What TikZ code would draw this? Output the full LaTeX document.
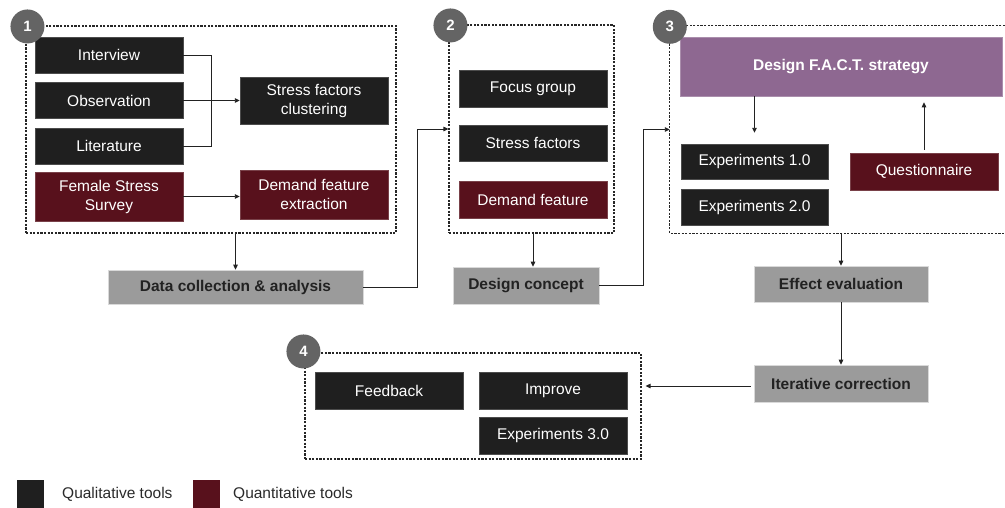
\documentclass[tikz,border=0pt]{standalone}
\usepackage{fontspec}
\setmainfont{Liberation Sans}
\usetikzlibrary{arrows.meta,fit}
\definecolor{qblack}{HTML}{1F1F1F}
\definecolor{qmaroon}{HTML}{58111C}
\definecolor{qpurple}{HTML}{8E6891}
\definecolor{qgray}{HTML}{9B9B9B}
\definecolor{circgray}{HTML}{646464}
\definecolor{darktext}{HTML}{222222}
\definecolor{legtext}{HTML}{2A2A2A}
\begin{document}
\begin{tikzpicture}[x=1pt,y=-1pt,
  box/.style={rectangle, inner sep=0pt, align=center, text=white,
    font=\fontsize{15.5}{19}\selectfont},
  qual/.style={box, fill=qblack, draw=black!70, line width=0.4pt},
  quant/.style={box, fill=qmaroon, draw=qmaroon!80!white, line width=0.4pt},
  stagebox/.style={box, fill=qgray, draw=black!15, line width=0.6pt, text=darktext,
    font=\bfseries\fontsize{15.5}{19}\selectfont},
  factbox/.style={box, fill=qpurple, draw=qpurple!75!white, line width=0.6pt,
    font=\bfseries\fontsize{15.5}{19}\selectfont},
  frame/.style={rectangle, inner sep=0pt, draw=black!85, line width=1.1pt,
    dash pattern=on 2.2pt off 1.4pt},
  framepath/.style={draw=black!85, line width=1.1pt, dash pattern=on 2.2pt off 1.4pt},
  numc/.style={circle, fill=circgray, text=white, minimum size=34pt, inner sep=0pt,
    font=\bfseries\fontsize{15}{15}\selectfont},
  conn/.style={draw=darktext, line width=0.9pt},
  arr/.style={conn, -{Triangle[length=5pt,width=4.5pt]}},
  legsq/.style={rectangle, inner sep=0pt, minimum width=27pt, minimum height=30pt, anchor=north west},
  legtxt/.style={anchor=west, text=legtext, inner sep=0pt, font=\fontsize{15.5}{19}\selectfont}
]
\useasboundingbox (0,0) rectangle (1005,507);

% ---------- frames ----------
\node[frame, fit={(26,26)(396,233)}] (f1) {};
\node[frame, fit={(449,25)(614,233)}] (f2) {};
\node[inner sep=0pt, fit={(670,26)(1012,233)}] (f3) {};
\draw[framepath] (f3.north east) -- (f3.north west) -- (f3.south west) -- (f3.south east);
\node[frame, fit={(305,353)(641,459)}] (f4) {};

% ---------- stage 1 ----------
\node[qual, minimum width=148pt, minimum height=36pt] (interview) at (109,55) {Interview};
\node[qual, minimum width=148pt, minimum height=36pt] (observation) at (109,100.5) {Observation};
\node[qual, minimum width=148pt, minimum height=36pt] (literature) at (109,146) {Literature};
\node[quant, minimum width=148pt, minimum height=49pt] (female) at (109,196.5) {Female Stress\\Survey};
\node[qual, minimum width=148pt, minimum height=47pt] (stressclust) at (314,100.5) {Stress factors\\clustering};
\node[quant, minimum width=148pt, minimum height=49pt] (demandext) at (314,194.5) {Demand feature\\extraction};
\node[stagebox, minimum width=255pt, minimum height=34pt] (datacoll) at (235.5,287) {Data collection \& analysis};

% ---------- stage 2 ----------
\node[qual, minimum width=148pt, minimum height=37pt] (focus) at (533,88.5) {Focus group};
\node[qual, minimum width=148pt, minimum height=36pt] (stressf) at (533,143) {Stress factors};
\node[quant, minimum width=148pt, minimum height=37pt] (demandf) at (533,199.5) {Demand feature};
\node[stagebox, minimum width=146pt, minimum height=37pt] (designc) at (526,285.5) {Design concept};

% ---------- stage 3 ----------
\node[factbox, minimum width=322pt, minimum height=59pt] (fact) at (841,66.5) {Design F.A.C.T. strategy};
\node[qual, minimum width=147pt, minimum height=35pt] (exp1) at (754.5,161.5) {Experiments 1.0};
\node[qual, minimum width=147pt, minimum height=36pt] (exp2) at (754.5,207) {Experiments 2.0};
\node[quant, minimum width=148pt, minimum height=37pt] (quest) at (924,171.5) {Questionnaire};
\node[stagebox, minimum width=174pt, minimum height=36pt] (effect) at (841,284) {Effect evaluation};
\node[stagebox, minimum width=174pt, minimum height=37pt] (iter) at (841,383.5) {Iterative correction};

% ---------- stage 4 ----------
\node[qual, minimum width=148pt, minimum height=37pt] (feedback) at (389,390.5) {Feedback};
\node[qual, minimum width=148pt, minimum height=37pt] (improve) at (553,390.5) {Improve};
\node[qual, minimum width=148pt, minimum height=37pt] (exp3) at (553,435.5) {Experiments 3.0};

% ---------- number badges ----------
\node[numc] (n1) at ([shift={(2,1)}]f1.north west) {1};
\node[numc] (n2) at ([shift={(2,1)}]f2.north west) {2};
\node[numc] (n3) at ([shift={(0,1)}]f3.north west) {3};
\node[numc] (n4) at ([shift={(-1,-1)}]f4.north west) {4};

% ---------- connectors ----------
\draw[conn] (interview.east) -- ++(28,0) coordinate (bj) |- (literature.east);
\draw[arr] (observation.east) -- (observation.east -| stressclust.west);
\draw[arr] (female.east) -- (female.east -| demandext.west);
\draw[arr] (datacoll.north |- f1.south) -- (datacoll.north);
\draw[arr] (datacoll.east) -- ++(54,0) coordinate (c1) |- (f2.west);
\draw[arr] ([xshift=1.5pt]f2.south) -- ([xshift=1.5pt]f2.south |- designc.north);
\draw[arr] (designc.east) -- ++(44,0) coordinate (c2) |- (f3.west);
\draw[arr] (fact.south -| exp1.north) -- ([yshift=11pt]exp1.north);
\draw[arr] ([yshift=3pt]quest.north) -- ([yshift=-6pt]quest.north |- fact.south);
\draw[arr] (f3.south -| effect.north) -- (effect.north);
\draw[arr] (effect.south) -- (iter.north);
\draw[arr] ([shift={(-3,2.5)}]iter.west) -- ([shift={(4,2.5)}]iter.west -| f4.east);

% ---------- legend ----------
\node[legsq, fill=qblack] (lg1) at (17,480) {};
\node[legtxt] (lt1) at (62,494) {Qualitative tools};
\node[legsq, fill=qmaroon] (lg2) at (193,480) {};
\node[legtxt] (lt2) at (233,494) {Quantitative tools};
\end{tikzpicture}
\end{document}
